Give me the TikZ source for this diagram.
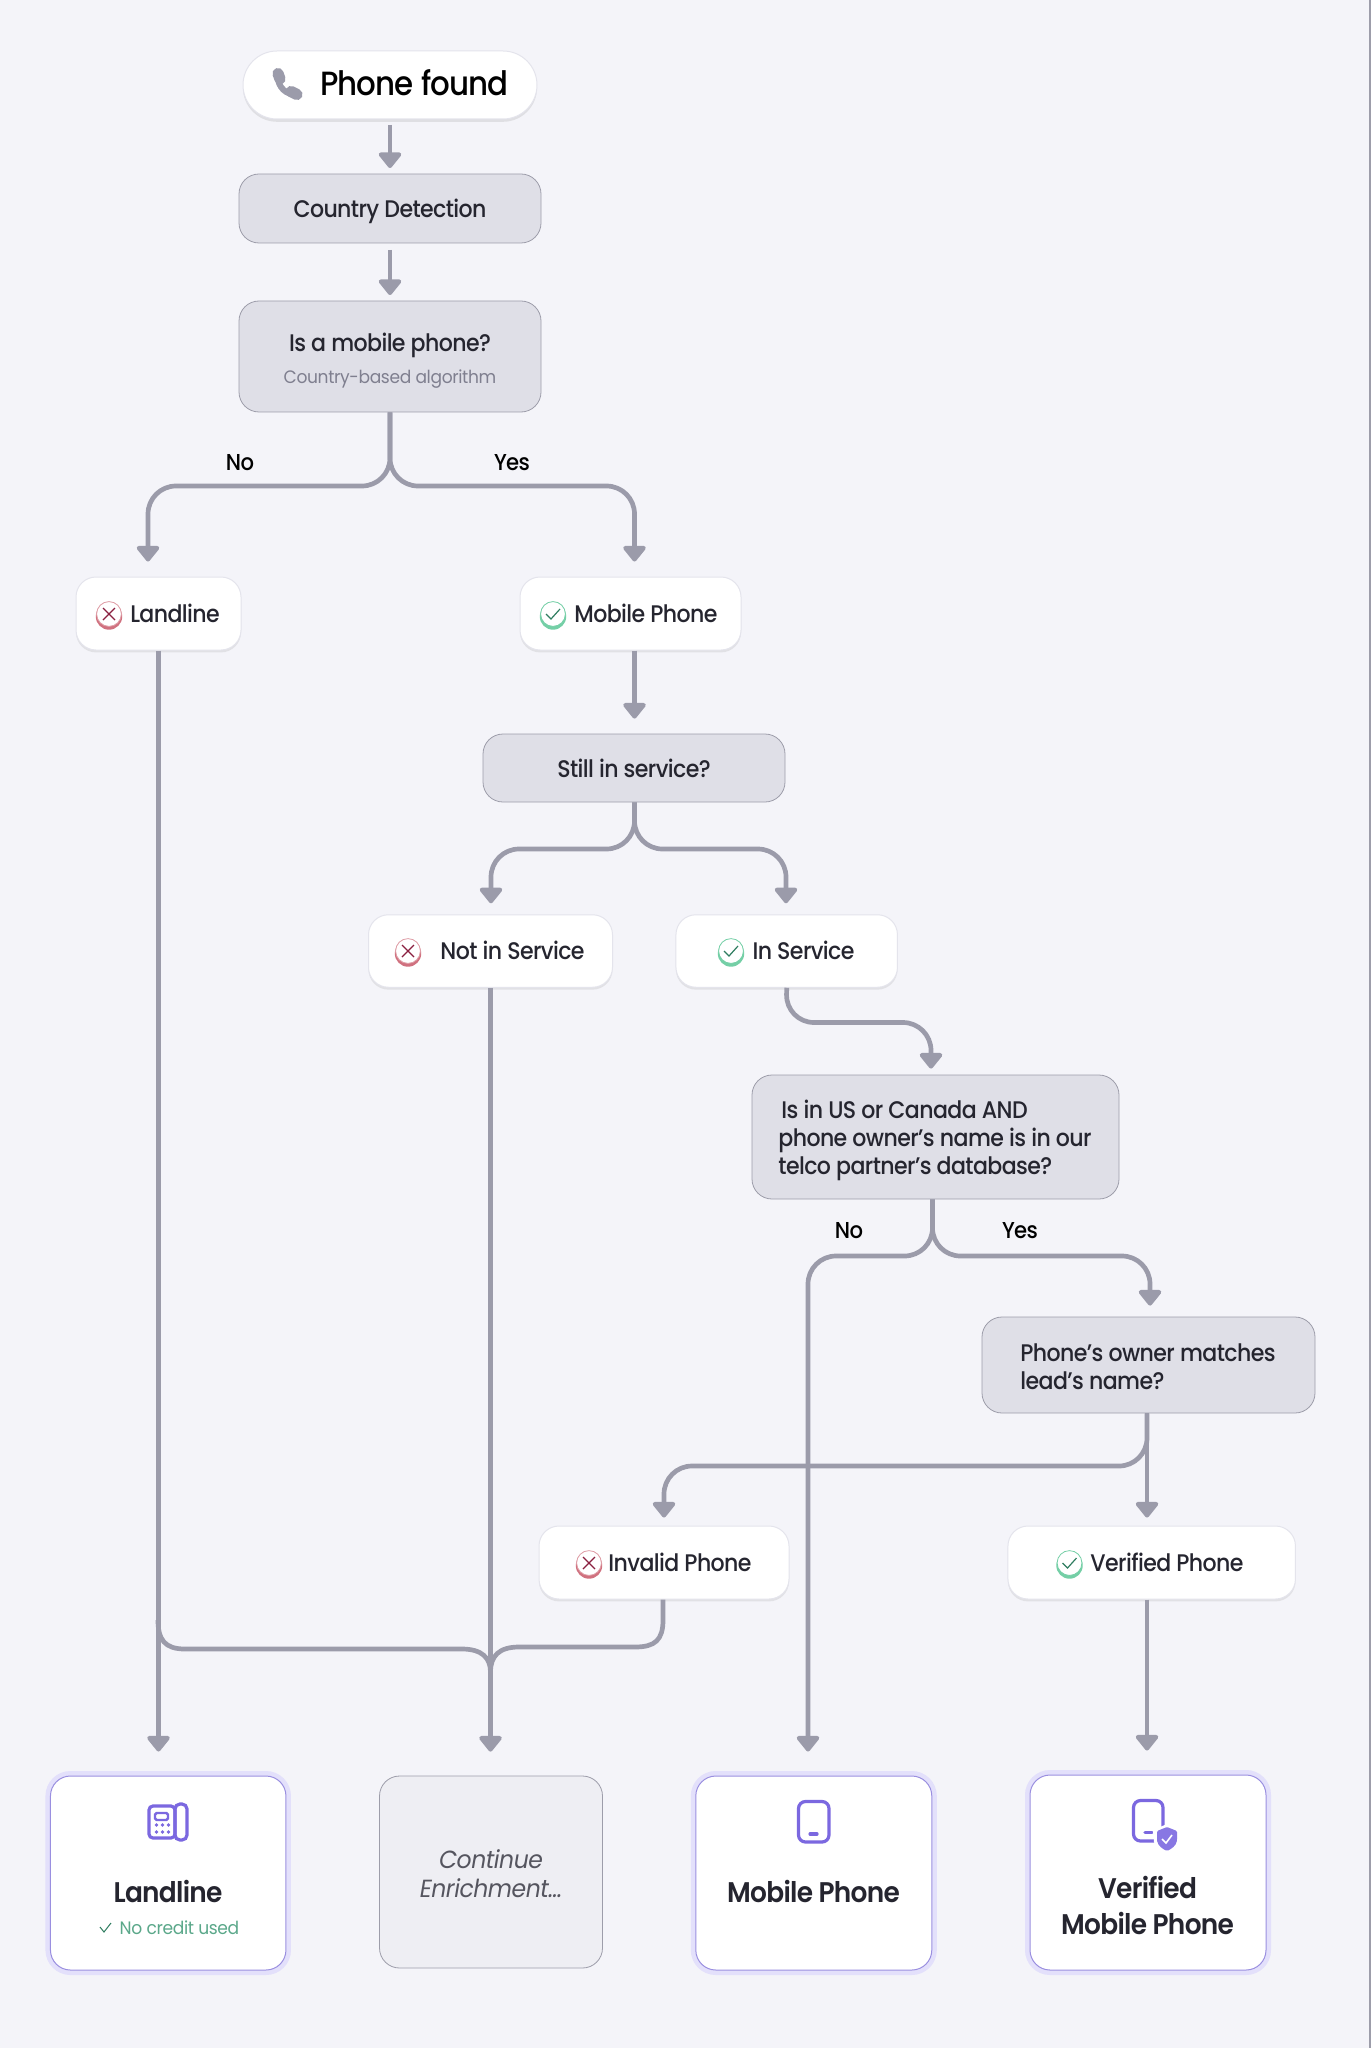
\documentclass[tikz,border=0pt]{standalone}
\usepackage{fontspec}
\usetikzlibrary{arrows.meta,shadows,calc}
\setmainfont{Poppins}[LetterSpace=-2,FakeStretch=.95]
\newfontfamily\bodyfont{Poppins Medium}[LetterSpace=-2.5,FakeStretch=.92]
\newfontfamily\titlefont{Poppins SemiBold}[LetterSpace=-2.5,FakeStretch=.93]
\definecolor{bgc}{HTML}{F4F4F9}
\definecolor{ink}{HTML}{25252F}
\definecolor{flowc}{HTML}{9B9BAA}
\definecolor{greyfill}{HTML}{DFDFE7}
\definecolor{greyline}{HTML}{9D9DAA}
\definecolor{mutedtxt}{HTML}{7F7F8F}
\definecolor{softfill}{HTML}{EEEEF3}
\definecolor{softtxt}{HTML}{55555F}
\definecolor{purp}{HTML}{7B68E0}
\definecolor{halo}{HTML}{E3E0FB}
\definecolor{purpline}{HTML}{9A8FE0}
\definecolor{whiteline}{HTML}{E4E4EC}
\definecolor{redring}{HTML}{D0717F}
\definecolor{redmark}{HTML}{8A2040}
\definecolor{greenring}{HTML}{74CFA6}
\definecolor{greenmark}{HTML}{2F7D60}
\definecolor{greentxt}{HTML}{5BA88A}
\tikzset{
  x=0.5pt,y=-0.5pt,
  sz/.style 2 args={minimum width=#1*0.5pt,minimum height=#2*0.5pt},
  greybox/.style={draw=greyline,line width=.4pt,fill=greyfill,rounded corners=10pt,inner sep=0pt},
  whitebox/.style={draw=whiteline,line width=.5pt,fill=white,rounded corners=10pt,inner sep=0pt,
     drop shadow={opacity=.16,shadow xshift=0pt,shadow yshift=-1.2pt}},
  pill/.style={draw=whiteline,line width=.5pt,fill=white,rounded corners=17pt,inner sep=0pt,
     drop shadow={opacity=.18,shadow xshift=0pt,shadow yshift=-1.4pt}},
  resultbox/.style={draw=purpline,line width=.5pt,fill=white,rounded corners=10pt,inner sep=0pt,
     preaction={draw=halo,line width=5pt}},
  softbox/.style={draw=greyline,line width=.4pt,fill=softfill,rounded corners=10pt,inner sep=0pt},
  lbl/.style={inner sep=0pt,text=ink,text height=9.8pt,text depth=1.2pt,font=\bodyfont\fontsize{12}{14}\selectfont},
  lbltwo/.style={inner sep=0pt,text=ink,align=left,font=\bodyfont\fontsize{12}{14}\selectfont},
  branch/.style={inner sep=0pt,text=black,text height=9.8pt,text depth=1.2pt,font=\bodyfont\fontsize{11.5}{14}\selectfont},
  title/.style={inner sep=0pt,text=ink,align=center,font=\titlefont\fontsize{14.2}{18}\selectfont},
  flow/.style={draw=flowc,line width=2.35pt,-{Triangle[width=13pt,length=8.5pt,round]}},
  icon/.style={draw=purp,line width=1.6pt},
}
\newcommand{\nomark}[2]{%
  \fill[redring] (#1,#2+1.5) circle (6.6pt);
  \draw[redring!70,line width=.4pt,fill=white] (#1,#2-1) circle (6.2pt);
  \draw[redmark,line width=.6pt] (#1-6,#2-7)--(#1+6,#2+5) (#1-6,#2+5)--(#1+6,#2-7);}
\newcommand{\yesmark}[2]{%
  \fill[greenring] (#1,#2+1.5) circle (6.6pt);
  \draw[greenring,line width=.4pt,fill=white] (#1,#2-1) circle (6.2pt);
  \draw[greenmark,line width=.6pt] (#1-7,#2-1)--(#1-2,#2+4)--(#1+7,#2-6);}
\begin{document}
\begin{tikzpicture}
\useasboundingbox (0,0) rectangle (1371,2048);
\fill[bgc] (0,0) rectangle (1371,2048);
\fill[greyline] (1369,0) rectangle (1371,2048);

% nodes
\node[pill,sz={294}{68}] (start) at (390,85) {};
\node[inner sep=0pt,text=black,text height=12pt,text depth=1pt,font=\bodyfont\fontsize{16.8}{18}\selectfont] (startt) at (414.5,85) {Phone found};
\node[greybox,sz={302}{69}] (country) at (390,208.5) {};
\node[lbl] (countryt) at (390,209) {Country Detection};
\node[greybox,sz={302}{111}] (mobq) at (390,356.5) {};
\node[lbl] (mobqt) at (390,342.5) {Is a mobile phone?};
\node[lbl,text=mutedtxt,font=\fontsize{9}{12}\selectfont] (mobqs) at (390,374.5) {Country-based algorithm};

\node[whitebox,sz={165}{73}] (land) at (158.5,613.5) {};
\node[lbl] (landt) at (175,614) {Landline};
\node[whitebox,sz={221}{73}] (mob) at (630.5,613.5) {};
\node[lbl] (mobt) at (646,614) {Mobile Phone};
\node[greybox,sz={302}{68}] (still) at (634,768) {};
\node[lbl] (stillt) at (634,768.5) {Still in service?};
\node[whitebox,sz={244}{72.5}] (notin) at (490.5,951) {};
\node[lbl] (notint) at (512.5,951) {Not in Service};
\node[whitebox,sz={221.5}{72.5}] (inserv) at (786.7,951) {};
\node[lbl] (inservt) at (803.5,951) {In Service};
\node[greybox,sz={367}{124}] (deal) at (935.5,1137) {};
\node[lbltwo,anchor=west] (dealt) at (778,1140) {\hspace*{1.5pt}Is in US or Canada AND\\phone owner’s name is in our\\telco partner’s database?};
\node[greybox,sz={333}{96}] (owner) at (1148.5,1365) {};
\node[lbltwo,anchor=west] (ownert) at (1020,1367) {Phone’s owner matches\\lead’s name?};
\node[whitebox,sz={250}{73}] (invalid) at (664,1562.5) {};
\node[lbl] (invalidt) at (680,1563) {Invalid Phone};
\node[whitebox,sz={287.5}{73}] (verif) at (1151.7,1562.5) {};
\node[lbl] (veriff) at (1167,1563) {Verified Phone};

\node[resultbox,sz={235.5}{194}] (rland) at (168.2,1873) {};
\node[title] (rlandt) at (168,1891) {Landline};
\node[inner sep=0pt,text=greentxt,font=\fontsize{9}{11}\selectfont] (rlands) at (179.5,1928) {No credit used};
\node[softbox,sz={223}{192}] (cont) at (491,1872) {};
\node[inner sep=0pt,text=softtxt,align=center,font=\itshape\fontsize{12.4}{14.4}\selectfont] (contt) at (491,1873.5) {Continue\\Enrichment…};
\node[resultbox,sz={236}{194}] (rmob) at (813.8,1873) {};
\node[title] (rmobt) at (813.5,1891) {Mobile Phone};
\node[resultbox,sz={236}{195}] (rver) at (1148,1872.5) {};
\node[title] (rvert) at (1147.5,1905) {Verified\\Mobile Phone};

% branch points
\coordinate (j1) at (390,486);
\coordinate (c1) at (148,486);
\coordinate (c2) at (634.5,486);
\coordinate (j2) at (634.5,849);
\coordinate (c3) at (491,849);
\coordinate (c4) at (786,849);
\coordinate (c5) at (931,1022.5);
\coordinate (j3) at (932.5,1256);
\coordinate (c6) at (808,1256);
\coordinate (c7) at (1150,1256);
\coordinate (j4) at (1147,1466);
\coordinate (c8) at (664,1466);
\coordinate (j5) at (490.5,1672);
\coordinate (c9) at (158,1649);
\coordinate (c10) at (663,1647);

% connectors
\draw[flow,shorten >=2.8pt] (start.south |- 0,125) -- (start.south |- country.north);
\draw[flow,shorten >=2.8pt] (country.south |- 0,250) -- (country.south |- mobq.north);
\draw[flow,shorten >=7.5pt,rounded corners=14pt] (mobq.south) -- (j1) -- (c1) -- (c1 |- land.north);
\draw[flow,shorten >=7.5pt,rounded corners=14pt] (mobq.south) -- (j1) -- (c2) -- (c2 |- mob.north);
\draw[flow,shorten >=7.5pt] (c2 |- mob.south) -- (c2 |- still.north);
\draw[flow,shorten >=5.5pt,rounded corners=14pt] (j2 |- still.south) -- (j2) -- (c3) -- (c3 |- notin.north);
\draw[flow,shorten >=5.5pt,rounded corners=14pt] (j2 |- still.south) -- (j2) -- (c4) -- (c4 |- inserv.north);
\draw[flow,shorten >=3pt,rounded corners=14pt] (inserv.south) -- (c4 |- c5) -- (c5) -- (c5 |- deal.north);
\draw[flow,shorten >=12pt,rounded corners=14pt] (j3 |- deal.south) -- (j3) -- (c6) -- (c6 |- rmob.north);
\draw[flow,shorten >=5.5pt,rounded corners=14pt] (j3 |- deal.south) -- (j3) -- (c7) -- (c7 |- owner.north);
\draw[flow,shorten >=4pt] (j4 |- owner.south) -- (j4 |- verif.north);
\draw[flow,shorten >=4pt,rounded corners=14pt] (j4 |- owner.south) -- (j4) -- (c8) -- (c8 |- invalid.north);
\draw[flow,shorten >=12pt] (j4 |- verif.south) -- (j4 |- rver.north);
\draw[flow,shorten >=12pt] (land.south) -- (land.south |- rland.north);
\draw[flow,shorten >=12pt] (notin.south) -- (notin.south |- cont.north);
\draw[draw=flowc,line width=2.35pt] (158,1620) .. controls (158,1640) and (165,1649) .. (185,1649) -- (462,1649) .. controls (482,1649) and (490.5,1658) .. (j5);
\draw[draw=flowc,line width=2.35pt] (c10 |- invalid.south) -- (663,1620) .. controls (663,1640) and (655,1647) .. (635,1647) -- (519,1647) .. controls (499,1647) and (490.5,1656) .. (j5);

% branch labels
\node[branch] (no1) at (240,462) {No};
\node[branch] (yes1) at (512,462) {Yes};
\node[branch] (no2) at (849,1230) {No};
\node[branch] (yes2) at (1020,1230) {Yes};

% phone icon
\draw[flowc,line width=3pt,line cap=round] (277.5,76) .. controls (278,87) and (286,95) .. (296,94.5);
\draw[flowc,line width=5.6pt,line cap=round] (278,73.5)--(280,79);
\draw[flowc,line width=5.6pt,line cap=round] (291,91.5)--(297,94.5);

% status marks
\nomark{109}{615}
\yesmark{553}{615}
\nomark{408}{952}
\yesmark{731}{952}
\nomark{589}{1564}
\yesmark{1069.5}{1564}

% landline icon
\draw[icon,rounded corners=2pt] (149,1806) rectangle (175,1838);
\draw[icon,rounded corners=2.5pt] (175,1804) rectangle (187,1840);
\draw[purp,line width=1.2pt,rounded corners=.8pt] (155,1813) rectangle (168,1820);
\foreach \px in {156.5,162.5,168.5}{\fill[purp] (\px,1825) circle (.9pt); \fill[purp] (\px,1832) circle (.9pt);}
\draw[greenmark,line width=.5pt] (100,1927)--(104,1932)--(111,1923);

% mobile icon
\draw[icon,rounded corners=3.5pt] (798.5,1801.5) rectangle (829,1842);
\draw[purp,line width=1.6pt,line cap=round] (810,1834)--(817,1834);

% verified icon
\draw[icon,rounded corners=3.5pt] (1133.5,1800.5) rectangle (1163,1841);
\draw[purp,line width=1.6pt,line cap=round] (1145,1832.5)--(1152,1832.5);
\fill[white] (1167,1824) -- (1181,1830) -- (1180,1842) .. controls (1178,1850) and (1172,1852) .. (1167,1854) .. controls (1162,1852) and (1156,1850) .. (1154,1842) -- (1153,1830) -- cycle;
\fill[purp!90,rounded corners=.6pt] (1167,1827) -- (1177,1831) -- (1177,1840) .. controls (1176,1846) and (1171,1849) .. (1167,1851) .. controls (1163,1849) and (1158,1846) .. (1157,1840) -- (1157,1831) -- cycle;
\draw[white,line width=.8pt] (1162,1839)--(1166,1843)--(1172,1835);
\end{tikzpicture}
\end{document}
